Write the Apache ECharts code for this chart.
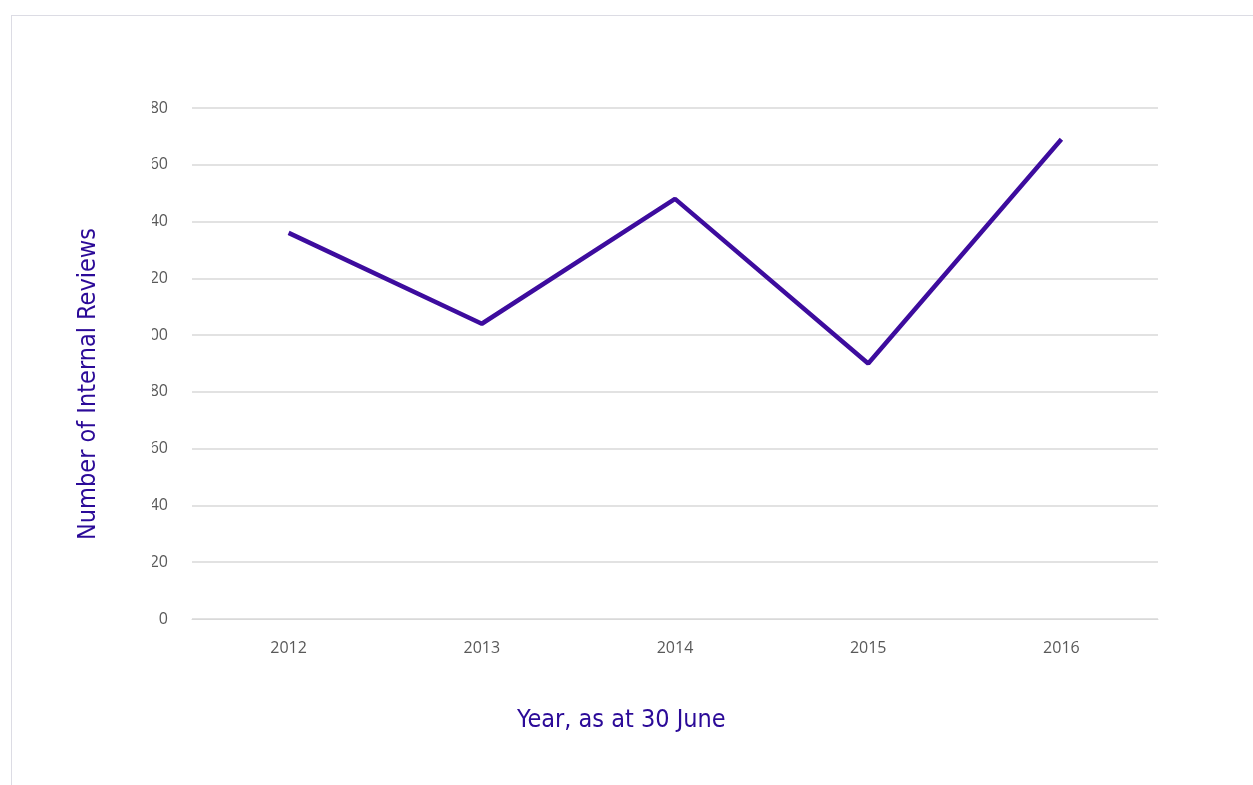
<!DOCTYPE html>
<html><head><meta charset="utf-8">
<script src="https://cdn.jsdelivr.net/npm/echarts@6/dist/echarts.min.js"></script>
<style>
html,body{margin:0;padding:0;background:#fff;}
#frame{position:absolute;left:11px;top:15px;width:1250px;height:780px;border-left:1px solid #dcdce4;border-top:1px solid #dcdce4;}
#main{position:absolute;left:0;top:0;width:1253px;height:785px;}
</style></head>
<body>
<div id="frame"></div>
<div id="main"></div>
<script>
var years = ['2012','2013','2014','2015','2016'];
var reviews = [136, 104, 148, 90, 169];
var yTicks = [0, 20, 40, 60, 80, 100, 120, 140, 160, 180];
var xTitle = 'Year, as at 30 June';
var yTitle = 'Number of Internal Reviews';

var chart = echarts.init(document.getElementById('main'));
chart.setOption({
  animation: false,
  grid: {left: 192, right: 95, top: 108, bottom: 166},
  xAxis: {
    type: 'category', data: years, boundaryGap: true,
    axisLine: {show: true, lineStyle: {color: '#d9d9d9', width: 1}},
    axisTick: {show: false},
    axisLabel: {color: '#595959', fontSize: 16, fontFamily: 'Open Sans', margin: 21}
  },
  yAxis: {
    type: 'value', min: yTicks[0], max: yTicks[yTicks.length-1], interval: 20,
    axisLine: {show: false}, axisTick: {show: false},
    splitLine: {lineStyle: {color: '#d9d9d9', width: 1.5}},
    axisLabel: {color: '#595959', fontSize: 16, fontFamily: 'Open Sans', margin: 24}
  },
  graphic: [{
    type: 'rect', left: 128, top: 95, z: 100,
    shape: {width: 24, height: 505},
    style: {fill: '#ffffff'}
  }, {
    type: 'text', left: 517, top: 708, z: 100,
    style: {text: xTitle, fill: '#2b0a98', fontSize: 25, fontFamily: 'DejaVu Sans Condensed'}
  }, {
    type: 'text', x: 88, y: 384, rotation: Math.PI/2, z: 100,
    style: {text: yTitle, fill: '#2b0a98', fontSize: 25, fontFamily: 'DejaVu Sans Condensed', align: 'center', verticalAlign: 'middle'}
  }],
  series: [{
    type: 'line', data: reviews, symbol: 'none',
    lineStyle: {color: '#3d0c9e', width: 4.5}
  }]
});
</script>
</body></html>
